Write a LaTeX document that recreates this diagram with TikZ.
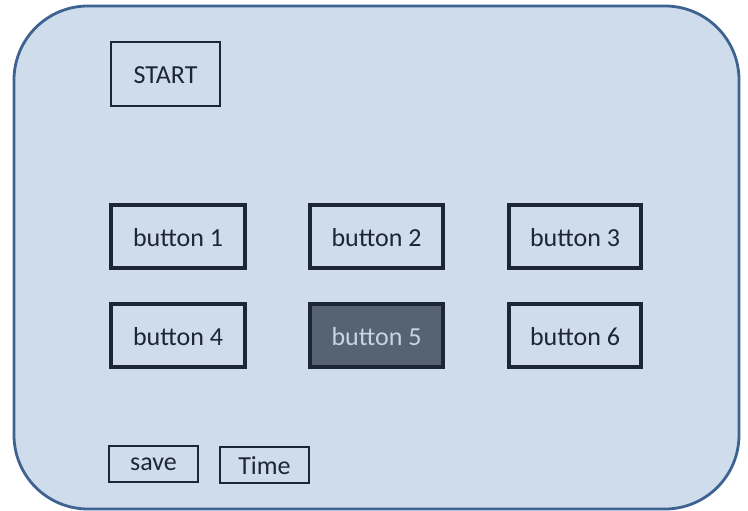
\documentclass[tikz,border=0pt]{standalone}
\usepackage{fontspec}
\setmainfont{Carlito}
\definecolor{bgfill}{HTML}{CFDCEB}
\definecolor{frame}{HTML}{3E6392}
\definecolor{ink}{HTML}{1C2636}
\definecolor{darkbtn}{HTML}{566373}
\definecolor{lighttext}{HTML}{C9D5E5}
\begin{document}
\begin{tikzpicture}[x=1pt,y=-1pt,
  lbl/.style={font=\fontsize{26}{30}\selectfont, text=ink, inner sep=0pt},
  btn/.style={draw=ink, line width=3.6pt, fill=bgfill},
  thinbox/.style={draw=ink, line width=2.2pt, fill=bgfill}]
\useasboundingbox (0,0) rectangle (748,511);
\fill[white] (0,0) rectangle (748,511);
\draw[frame, line width=2.8pt, fill=bgfill, rounded corners=74pt] (14,6) rectangle (739,509);
% START
\draw[thinbox] (111,42) rectangle (220,106);
\node[lbl] (start) at (165.5,75) {START};
% buttons
\draw[btn] (111,205) rectangle (245,268);
\node[lbl] (b1) at (178,238) {button 1};
\draw[btn] (310,205) rectangle (443,268);
\node[lbl] (b2) at (376.5,238) {button 2};
\draw[btn] (509,205) rectangle (641,268);
\node[lbl] (b3) at (575,238) {button 3};
\draw[btn] (111,304) rectangle (245,367);
\node[lbl] (b4) at (178,337) {button 4};
\draw[btn, fill=darkbtn] (310,304) rectangle (443,367);
\node[lbl, text=lighttext] (b5) at (376.5,337) {button 5};
\draw[btn] (509,304) rectangle (641,367);
\node[lbl] (b6) at (575,337) {button 6};
% save / Time
\draw[thinbox] (109,446) rectangle (198,482);
\node[lbl] (save) at (153.5,464) {save};
\draw[thinbox] (220,447) rectangle (309,483);
\node[lbl] (time) at (264.5,466) {Time};
\end{tikzpicture}
\end{document}
